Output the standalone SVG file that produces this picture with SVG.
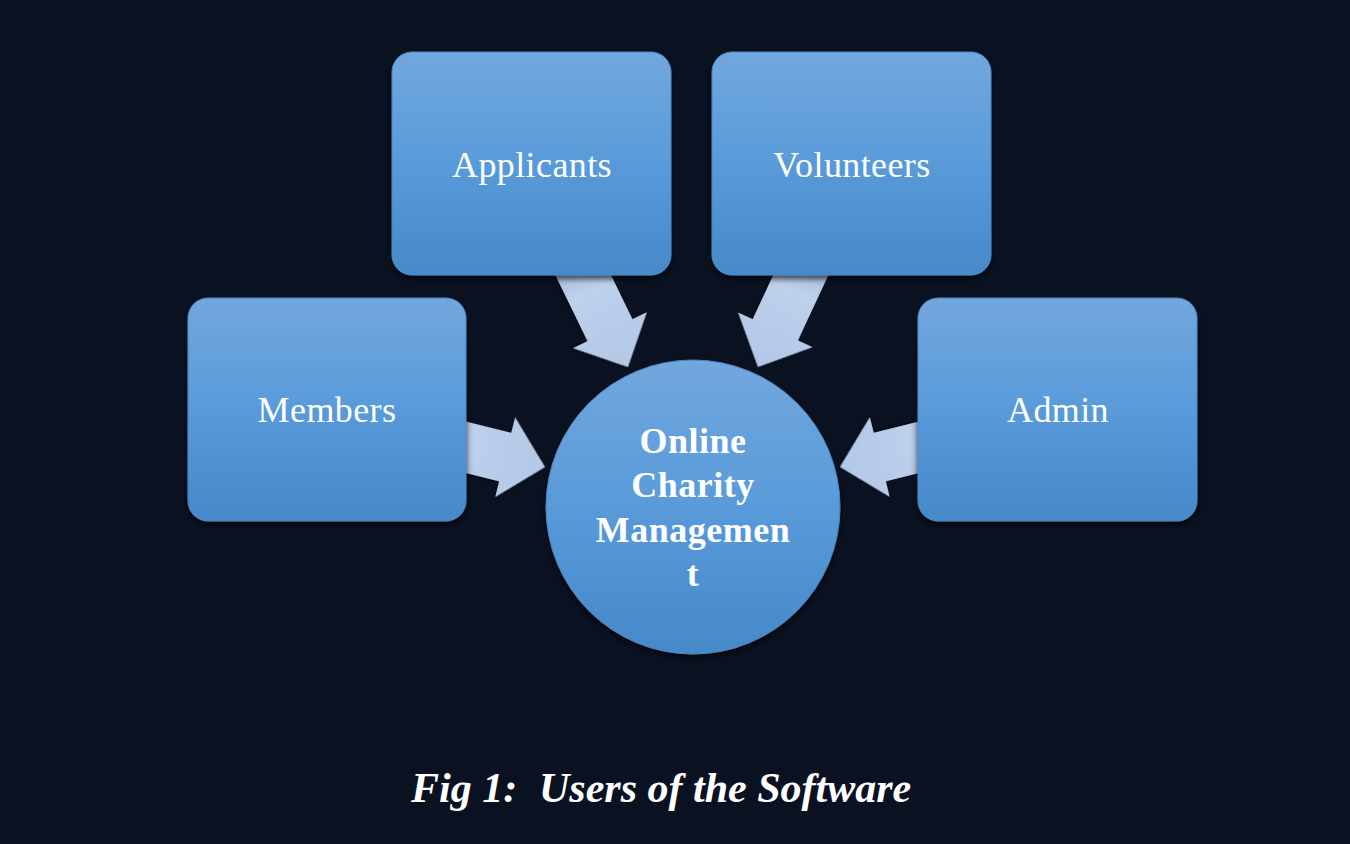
<svg xmlns="http://www.w3.org/2000/svg" width="1350" height="844" viewBox="0 0 1350 844">
  <defs>
    <linearGradient id="boxGrad" x1="0" y1="0" x2="0" y2="1">
      <stop offset="0" stop-color="#72a7dd"/>
      <stop offset="0.45" stop-color="#5b9cdb"/>
      <stop offset="1" stop-color="#4689c9"/>
    </linearGradient>
    <linearGradient id="arrowGrad" x1="0" y1="0" x2="1" y2="0">
      <stop offset="0" stop-color="#9fb3d2"/>
      <stop offset="0.35" stop-color="#bdd0ec"/>
      <stop offset="1" stop-color="#b3c8e6"/>
    </linearGradient>
    <filter id="shadow" x="-10%" y="-10%" width="120%" height="125%">
      <feDropShadow dx="0" dy="3" stdDeviation="3" flood-color="#000000" flood-opacity="0.75"/>
    </filter>
    <filter id="ashadow" x="-20%" y="-20%" width="140%" height="140%">
      <feDropShadow dx="0" dy="2" stdDeviation="2" flood-color="#000000" flood-opacity="0.5"/>
    </filter>
  </defs>
  <style>
    .box { fill: url(#boxGrad); stroke: #4a86c2; stroke-width: 1; filter: url(#shadow); }
    .arrow { fill: url(#arrowGrad); filter: url(#ashadow); }
    .label { font-family: "Liberation Serif", "Times New Roman", serif; font-size: 36px; fill: #ffffff; text-anchor: middle; letter-spacing: 0.4px; }
    .center { font-family: "Liberation Serif", "Times New Roman", serif; font-size: 36px; font-weight: bold; fill: #ffffff; text-anchor: middle; letter-spacing: 0.5px; }
    .caption { font-family: "Liberation Serif", "Times New Roman", serif; font-size: 42px; font-weight: bold; font-style: italic; fill: #ffffff; }
  </style>
  <rect x="0" y="0" width="1350" height="844" fill="#0a1222"/>

  <g id="connectors">
    <polygon class="arrow" transform="translate(628,367) rotate(64)" points="0,0 -41,-41 -41,-25 -130,-25 -130,25 -41,25 -41,41"/>
    <polygon class="arrow" transform="translate(758,367) rotate(115)" points="0,0 -41,-41 -41,-25 -130,-25 -130,25 -41,25 -41,41"/>
    <polygon class="arrow" transform="translate(545,467) rotate(14)" points="0,0 -41,-41 -41,-25 -130,-25 -130,25 -41,25 -41,41"/>
    <polygon class="arrow" transform="translate(840,467) rotate(166)" points="0,0 -41,-41 -41,-25 -130,-25 -130,25 -41,25 -41,41"/>
  </g>

  <g id="node-applicants">
    <rect class="box" x="392" y="52" width="279" height="223" rx="20" ry="20"/>
    <text class="label" x="532" y="177">Applicants</text>
  </g>
  <g id="node-volunteers">
    <rect class="box" x="712" y="52" width="279" height="223" rx="20" ry="20"/>
    <text class="label" x="852" y="177">Volunteers</text>
  </g>
  <g id="node-members">
    <rect class="box" x="188" y="298" width="278" height="223" rx="20" ry="20"/>
    <text class="label" x="327" y="422">Members</text>
  </g>
  <g id="node-admin">
    <rect class="box" x="918" y="298" width="279" height="223" rx="20" ry="20"/>
    <text class="label" x="1058" y="422">Admin</text>
  </g>
  <g id="node-center">
    <circle class="box" cx="693" cy="507" r="147"/>
    <text class="center" x="693" y="453">Online</text>
    <text class="center" x="693" y="497">Charity</text>
    <text class="center" x="693" y="542">Managemen</text>
    <text class="center" x="693" y="586">t</text>
  </g>

  <g id="caption">
    <text class="caption" y="802"><tspan x="411">Fig 1:</tspan><tspan x="539">Users of the Software</tspan></text>
  </g>
</svg>
